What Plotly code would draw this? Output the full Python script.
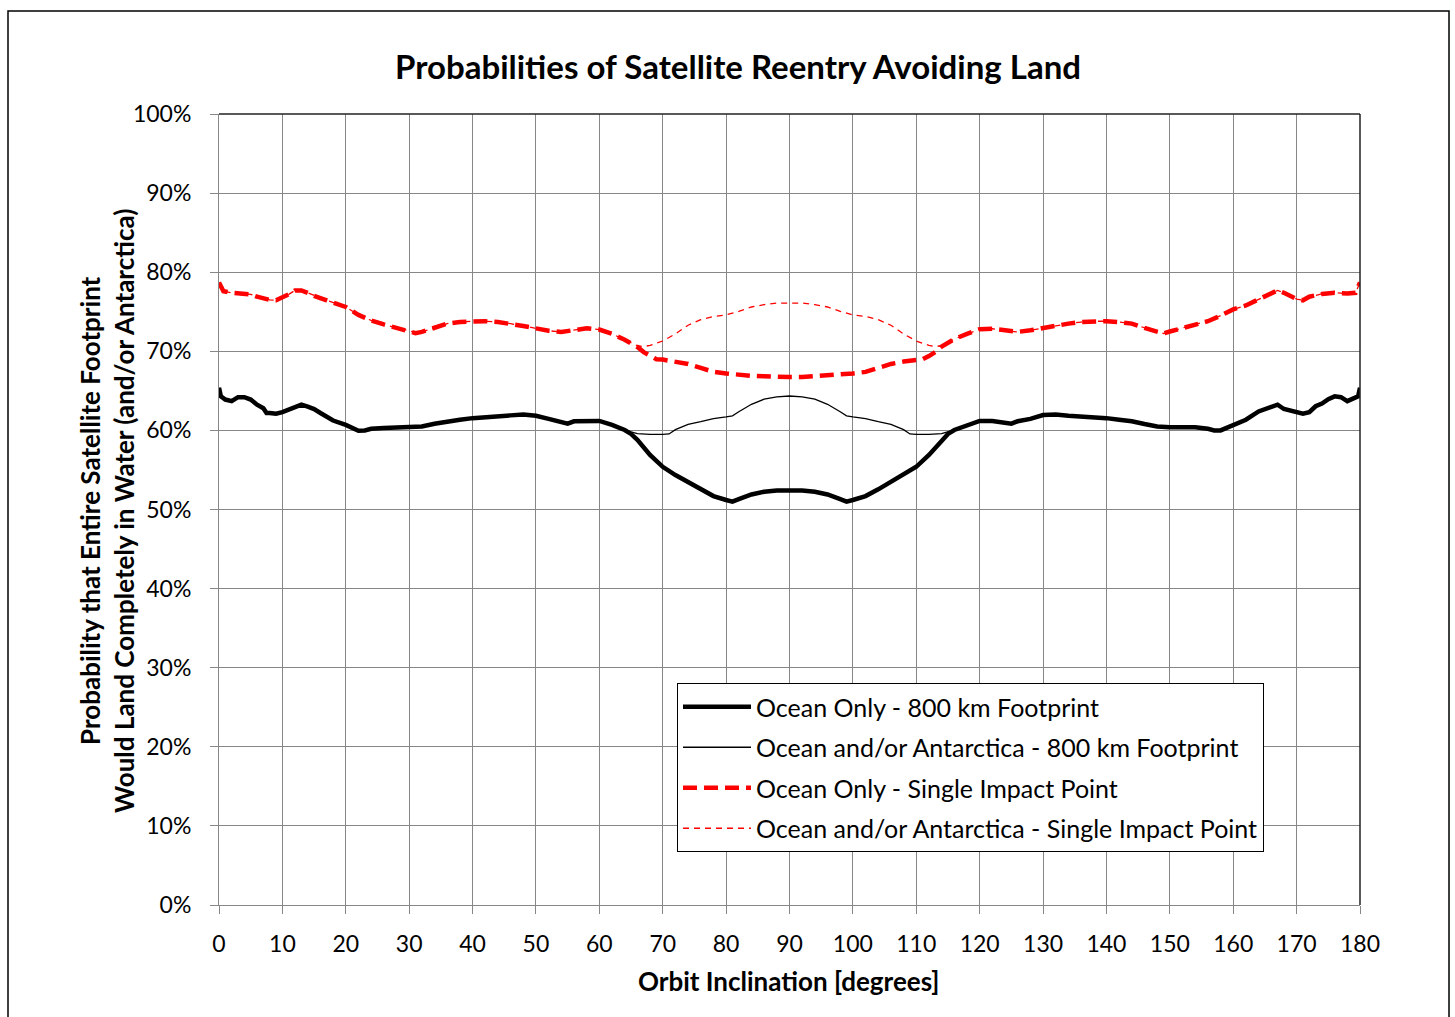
import plotly.graph_objects as go

# ---------------- data ----------------
# Ocean Only - 800 km Footprint (thick black)
oo800_x = [0, 0.3, 1, 2, 3, 4, 5, 6, 7, 7.5, 8, 9, 10, 11, 12, 13, 14, 15, 16, 18, 20, 22, 23, 24, 26, 28, 30,
           32, 34, 36, 38, 40, 42, 44, 46, 48, 50, 52, 54, 55, 56, 58, 60, 62, 64, 65, 66, 68, 70, 72, 74, 76,
           78, 80, 81, 82, 84, 86, 88, 90, 92, 94, 96, 98, 99, 100, 102, 104, 106, 108, 110, 112, 114, 115,
           116, 118, 120, 122, 124, 125, 126, 128, 130, 132, 134, 136, 138, 140, 142, 144, 146, 148, 150, 152,
           154, 156, 157, 158, 160, 162, 164, 166, 167, 168, 170, 171, 172, 173, 174, 175, 176, 177, 178, 179,
           179.7, 180]
oo800_y = [65.4, 64.3, 63.9, 63.7, 64.2, 64.2, 63.9, 63.25, 62.8, 62.2, 62.2, 62.1, 62.3, 62.6, 62.95, 63.25,
           63.0, 62.7, 62.2, 61.25, 60.7, 59.95, 60.0, 60.2, 60.3, 60.4, 60.5, 60.5, 60.85, 61.15, 61.35, 61.55,
           61.7, 61.75, 61.9, 62.0, 61.85, 61.45, 61.0, 60.85, 61.15, 61.2, 61.2, 60.7, 60.05, 59.55, 58.8, 56.9,
           55.4, 54.35, 53.5, 52.55, 51.7, 51.2, 51.0, 51.3, 51.9, 52.25, 52.4, 52.4, 52.4, 52.25, 51.9, 51.3,
           51.0, 51.2, 51.7, 52.55, 53.5, 54.35, 55.4, 56.9, 58.8, 59.55, 60.05, 60.7, 61.2, 61.2, 61.05, 60.85,
           61.15, 61.45, 61.95, 62.0, 61.85, 61.75, 61.75, 61.55, 61.35, 61.15, 60.8, 60.5, 60.4, 60.4, 60.4,
           60.2, 60.0, 60.0, 60.7, 61.35, 62.4, 63.05, 63.25, 62.7, 62.3, 62.1, 62.3, 63.05, 63.4, 63.95, 64.3,
           64.2, 63.7, 64.1, 64.3, 65.4]

# Ocean and/or Antarctica - 800 km Footprint (thin black)
oa800_x = [0, 0.3, 1, 2, 3, 4, 5, 6, 7, 7.5, 8, 9, 10, 11, 12, 13, 14, 15, 16, 18, 20, 22, 23, 24, 26, 28, 30,
           32, 34, 36, 38, 40, 42, 44, 46, 48, 50, 52, 54, 55, 56, 58, 60, 62, 64, 65, 66, 68, 70, 71, 72, 74,
           76, 78, 80, 81, 82, 84, 86, 88, 90, 92, 94, 96, 98, 99, 100, 102, 104, 106, 108, 109, 110, 112, 114,
           115, 116, 118, 120, 122, 124, 125, 126, 128, 130, 132, 134, 136, 138, 140, 142, 144, 146, 148, 150,
           152, 154, 156, 157, 158, 160, 162, 164, 166, 167, 168, 170, 171, 172, 173, 174, 175, 176, 177, 178,
           179, 179.7, 180]
oa800_y = [65.4, 64.3, 63.9, 63.7, 64.2, 64.2, 63.9, 63.25, 62.8, 62.2, 62.2, 62.1, 62.3, 62.6, 62.95, 63.25,
           63.0, 62.7, 62.2, 61.25, 60.7, 59.95, 60.0, 60.2, 60.3, 60.4, 60.5, 60.5, 60.85, 61.15, 61.35, 61.55,
           61.7, 61.75, 61.9, 62.0, 61.85, 61.45, 61.0, 60.85, 61.15, 61.2, 61.2, 60.7, 60.05, 59.8, 59.6, 59.5,
           59.5, 59.55, 60.1, 60.75, 61.1, 61.5, 61.7, 61.85, 62.35, 63.3, 63.95, 64.25, 64.35, 64.25, 63.95,
           63.3, 62.35, 61.85, 61.7, 61.5, 61.1, 60.75, 60.1, 59.55, 59.5, 59.5, 59.6, 59.8, 60.05, 60.7, 61.2,
           61.2, 61.05, 60.85, 61.15, 61.45, 61.95, 62.0, 61.85, 61.75, 61.75, 61.55, 61.35, 61.15, 60.8, 60.5,
           60.4, 60.4, 60.4, 60.2, 60.0, 60.0, 60.7, 61.35, 62.4, 63.05, 63.25, 62.7, 62.3, 62.1, 62.3, 63.05,
           63.4, 63.95, 64.3, 64.2, 63.7, 64.1, 64.3, 65.4]

# Ocean Only - Single Impact Point (thick red dashed)
oosp_x = [0, 0.7, 2, 4, 5, 6, 8, 9, 10, 11, 12, 13, 14, 15, 17, 20, 22, 24, 26, 28, 30, 31, 32, 34, 36, 38, 40,
          42, 44, 46, 48, 50, 52, 54, 56, 58, 60, 62, 64, 66, 67, 68, 69, 70, 72, 74, 76, 78, 80, 82, 84, 86,
          88, 90, 92, 94, 96, 98, 100, 102, 104, 106, 108, 110, 111, 112, 113, 114, 116, 118, 120, 122, 124,
          126, 128, 130, 132, 134, 136, 138, 140, 142, 144, 146, 148, 149, 150, 152, 154, 156, 158, 160, 162,
          164, 166, 167, 168, 170, 171, 172, 174, 176, 178, 179.3, 180]
oosp_y = [78.7, 77.6, 77.4, 77.3, 77.2, 76.9, 76.5, 76.45, 76.75, 77.2, 77.7, 77.7, 77.4, 77.0, 76.45, 75.6,
          74.6, 73.9, 73.4, 72.95, 72.6, 72.3, 72.45, 72.95, 73.5, 73.7, 73.8, 73.8, 73.7, 73.5, 73.2, 72.9,
          72.6, 72.45, 72.65, 72.9, 72.75, 72.2, 71.45, 70.55, 69.9, 69.4, 69.0, 68.95, 68.7, 68.4, 67.9, 67.4,
          67.2, 67.0, 66.9, 66.85, 66.75, 66.75, 66.75, 66.85, 66.9, 67.0, 67.2, 67.4, 67.9, 68.4, 68.7, 68.95,
          69.0, 69.4, 69.9, 70.6, 71.55, 72.2, 72.8, 72.85, 72.6, 72.45, 72.65, 72.95, 73.25, 73.5, 73.7, 73.8,
          73.8, 73.7, 73.5, 72.95, 72.45, 72.25, 72.5, 72.95, 73.4, 73.8, 74.5, 75.3, 75.8, 76.6, 77.4, 77.7,
          77.4, 76.6, 76.45, 76.9, 77.25, 77.4, 77.3, 77.4, 78.7]

# Ocean and/or Antarctica - Single Impact Point (thin red dashed)
oasp_x = [0, 0.7, 2, 4, 5, 6, 8, 9, 10, 11, 12, 13, 14, 15, 17, 20, 22, 24, 26, 28, 30, 31, 32, 34, 36, 38, 40,
          42, 44, 46, 48, 50, 52, 54, 56, 58, 60, 62, 64, 66, 67, 68, 70, 72, 74, 76, 78, 80, 82, 84, 86, 88,
          90, 92, 94, 96, 98, 100, 102, 104, 106, 108, 110, 112, 113, 114, 116, 118, 120, 122, 124, 126, 128,
          130, 132, 134, 136, 138, 140, 142, 144, 146, 148, 149, 150, 152, 154, 156, 158, 160, 162, 164, 166,
          167, 168, 170, 171, 172, 174, 176, 178, 179.3, 180]
oasp_y = [78.7, 77.6, 77.4, 77.3, 77.2, 76.9, 76.5, 76.45, 76.75, 77.2, 77.7, 77.7, 77.4, 77.0, 76.45, 75.6,
          74.6, 73.9, 73.4, 72.95, 72.6, 72.3, 72.45, 72.95, 73.5, 73.7, 73.8, 73.8, 73.7, 73.5, 73.2, 72.9,
          72.6, 72.45, 72.65, 72.9, 72.75, 72.2, 71.45, 70.7, 70.6, 70.75, 71.3, 72.2, 73.3, 74.0, 74.4, 74.6,
          75.05, 75.6, 75.9, 76.1, 76.1, 76.1, 75.9, 75.6, 75.05, 74.6, 74.4, 74.0, 73.3, 72.2, 71.3, 70.75,
          70.6, 70.7, 71.55, 72.2, 72.8, 72.85, 72.6, 72.45, 72.65, 72.95, 73.25, 73.5, 73.7, 73.8, 73.8, 73.7,
          73.5, 72.95, 72.45, 72.25, 72.5, 72.95, 73.4, 73.8, 74.5, 75.3, 75.8, 76.6, 77.4, 77.7, 77.4, 76.6,
          76.45, 76.9, 77.25, 77.4, 77.3, 77.4, 78.7]

series_names = [
    "Ocean Only - 800 km Footprint",
    "Ocean and/or Antarctica - 800 km Footprint",
    "Ocean Only - Single Impact Point",
    "Ocean and/or Antarctica - Single Impact Point",
]
x_ticks = list(range(0, 181, 10))
y_ticks = [i / 10 for i in range(11)]

title_text = "Probabilities of Satellite Reentry Avoiding Land"
x_title = "Orbit Inclination [degrees]"
y_title = ("Probability that Entire Satellite Footprint<br>"
           "Would Land Completely in Water (and/or Antarctica)")

FONT = "Lato, 'Open Sans', sans-serif"
GRID = "#878787"

fig = go.Figure()

# thin traces first (drawn underneath), legend order via legendrank
fig.add_trace(go.Scatter(x=oa800_x, y=[v / 100 for v in oa800_y], mode="lines", name=series_names[1],
                         line=dict(color="black", width=1.3), legendrank=2, legendgroup="b"))
fig.add_trace(go.Scatter(x=oasp_x, y=[v / 100 for v in oasp_y], mode="lines", name=series_names[3],
                         line=dict(color="#ff0000", width=1.3, dash="6px,5px"), legendrank=4, legendgroup="d"))
fig.add_trace(go.Scatter(x=oo800_x, y=[v / 100 for v in oo800_y], mode="lines", name=series_names[0],
                         line=dict(color="black", width=4.5), legendrank=1, legendgroup="a"))
fig.add_trace(go.Scatter(x=oosp_x, y=[v / 100 for v in oosp_y], mode="lines", name=series_names[2],
                         line=dict(color="#ff0000", width=4.5, dash="14px,7px"), legendrank=3, legendgroup="c"))

L, R, T, B = 219, 95, 114, 112
W, H = 1455, 1017
pw, ph = W - L - R, H - T - B

def px_x(p):
    return (p - L) / pw

def px_y(p):
    return (H - B - p) / ph

fig.update_layout(
    width=W, height=H,
    margin=dict(l=L, r=R, t=T, b=B, autoexpand=False),
    paper_bgcolor="white", plot_bgcolor="white",
    font=dict(family=FONT, color="black", size=23),
    title=dict(text=title_text, x=738 / W, xanchor="center", y=(H - 67) / H, yanchor="middle",
               font=dict(family=FONT, size=33, weight="bold", color="black")),
    showlegend=True,
    legend=dict(x=px_x(677), y=px_y(683), xanchor="left", yanchor="top",
                bgcolor="white", bordercolor="black", borderwidth=1,
                font=dict(family=FONT, size=25, color="black"),
                tracegroupgap=5, itemwidth=68, traceorder="grouped"),
    xaxis=dict(range=[0, 180], tickvals=x_ticks, ticktext=[str(t) for t in x_ticks],
               showgrid=True, gridcolor=GRID, gridwidth=1, zeroline=False,
               showline=True, linecolor=GRID, linewidth=1,
               ticks="outside", ticklen=8, tickcolor=GRID, ticklabelstandoff=10,
               tickfont=dict(family=FONT, size=23, color="black"), fixedrange=True),
    yaxis=dict(range=[0, 1], tickvals=y_ticks, ticktext=[f"{int(round(t*100))}%" for t in y_ticks],
               showgrid=True, gridcolor=GRID, gridwidth=1, zeroline=False,
               showline=True, linecolor=GRID, linewidth=1,
               ticks="outside", ticklen=8, tickcolor=GRID, ticklabelstandoff=14,
               tickfont=dict(family=FONT, size=23, color="black"), fixedrange=True),
    annotations=[
        dict(text=f"<b>{x_title}</b>", xref="paper", yref="paper", x=px_x(789), y=px_y(981),
             xanchor="center", yanchor="middle", showarrow=False, font=dict(family=FONT, size=26)),
        dict(text=f"<b>{y_title}</b>", xref="paper", yref="paper", x=px_x(107), y=px_y(511),
             xanchor="center", yanchor="middle", showarrow=False, textangle=-90,
             font=dict(family=FONT, size=26)),
    ],
    shapes=[
        # plot-area top and right border (darker)
        dict(type="line", xref="paper", yref="paper", x0=0, x1=1, y0=1, y1=1,
             line=dict(color="#222222", width=1.5)),
        dict(type="line", xref="paper", yref="paper", x0=1, x1=1, y0=0, y1=1,
             line=dict(color="#222222", width=1.5)),
        # outer chart border
        dict(type="rect", xref="paper", yref="paper", x0=px_x(8), x1=px_x(1449), y0=px_y(1025), y1=px_y(11),
             line=dict(color="black", width=1.5), fillcolor="rgba(0,0,0,0)", layer="below"),
    ],
)

fig.write_html("out.html")
